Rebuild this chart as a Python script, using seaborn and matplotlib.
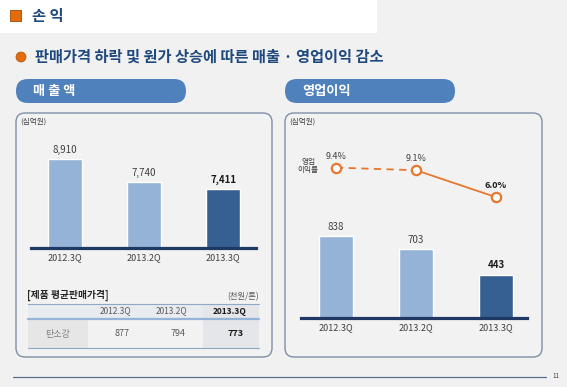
import matplotlib
matplotlib.use('Agg')
import matplotlib.pyplot as plt
import seaborn as sns
from matplotlib.patches import FancyBboxPatch, Rectangle, Circle

# ─── data ──────────────────────────────────────────────────────────────────────
quarters = ['2012.3Q', '2013.2Q', '2013.3Q']
sales = [8910, 7740, 7411]            # 매출액 (십억원)
op_profit = [838, 703, 443]           # 영업이익 (십억원)
op_margin = [9.4, 9.1, 6.0]           # 영업이익률 (%)
price_label = '탄소강'
avg_price = [877, 794, 773]           # 제품 평균판매가격 (천원/톤)

W, H = 567, 387
LIGHT = '#95b3d7'
DARK = '#366092'
NAVY = '#1f3864'
ORANGE = '#e8772e'
TITLE_BLUE = '#1f497d'
PILL = '#4f81bd'
BOX_EDGE = '#7f8fa6'
TXT = '#404040'

sns.set_style('white')
plt.rcParams['font.family'] = ['Noto Sans CJK KR', 'DejaVu Sans']


def px_rect(x0, y0, x1, y1):
    return [x0 / W, 1 - y1 / H, (x1 - x0) / W, (y1 - y0) / H]


fig = plt.figure(figsize=(W / 100, H / 100), dpi=100)
fig.patch.set_facecolor('#f1f1f1')

# background layer in pixel coordinates
bg = fig.add_axes([0, 0, 1, 1])
bg.set_xlim(0, W)
bg.set_ylim(H, 0)
bg.axis('off')

bg.add_patch(Rectangle((0, 0), 377, 33, color='white', lw=0))
bg.add_patch(Rectangle((10, 10), 11, 11, facecolor='#e46c0a', edgecolor='#a04a05', lw=0.6))
bg.text(32, 16, '손 익', fontsize=11, fontweight='bold', color=TITLE_BLUE, va='center')

bg.add_patch(Circle((21, 57), 5, facecolor='#e46c0a', edgecolor='#b35408', lw=0.5))
bg.text(35, 57, '판매가격 하락 및 원가 상승에 따른 매출 · 영업이익 감소',
        fontsize=11, fontweight='bold', color=TITLE_BLUE, va='center')

# pills and boxes
for x0, x1, label in [(16, 186, '매 출 액'), (285, 455, '영업이익')]:
    bg.add_patch(FancyBboxPatch((x0, 79), x1 - x0, 24,
                                boxstyle='round,pad=0,rounding_size=12',
                                facecolor=PILL, edgecolor='none'))
    bg.text(x0 + 17, 91, label, fontsize=9.5, fontweight='bold', color='white', va='center')

for x0, x1 in [(16, 272), (285, 542)]:
    bg.add_patch(FancyBboxPatch((x0, 113), x1 - x0, 244,
                                boxstyle='round,pad=0,rounding_size=9',
                                facecolor='#f2f2f2', edgecolor=BOX_EDGE, lw=1))
    bg.text(x0 + 4, 122, '(십억원)', fontsize=5.5, color=TXT, va='center')

bg.text(308, 166, '영업\n이익률', fontsize=5.5, color=TXT, ha='center', va='center',
        linespacing=1.1)

# price table
bg.text(27, 295, '[제품 평균판매가격]', fontsize=7, fontweight='bold', color='#262626', va='center')
bg.text(259, 297, '(천원/톤)', fontsize=6, color='#595959', ha='right', va='center')
bg.add_patch(Rectangle((28, 304), 231, 14, color='#e8ebf0', lw=0))
bg.add_patch(Rectangle((28, 318), 60, 30, color='#e6e6e6', lw=0))
bg.add_patch(Rectangle((203, 304), 56, 44, color='#e4e6ea', lw=0))
bg.plot([28, 259], [304, 304], color='#8ea9c1', lw=0.8)
bg.plot([28, 259], [318.5, 318.5], color=LIGHT, lw=1.6)
bg.plot([28, 259], [348, 348], color='#8ea9c1', lw=0.8)
col_x = [116, 172, 230]
for i, (q, v) in enumerate(zip(quarters, avg_price)):
    last = i == len(quarters) - 1
    bg.text(col_x[i], 311, q, fontsize=6, ha='center', va='center',
            color='#1a1a1a' if last else '#595959', fontweight='bold' if last else 'normal')
    bg.text(col_x[i] + 6, 334, f'{v:,}', fontsize=6.5, ha='center', va='center',
            color='#1a1a1a' if last else '#595959', fontweight='bold' if last else 'normal')
bg.text(58, 334, price_label, fontsize=6.5, ha='center', va='center', color='#7f7f7f')

# footer
bg.plot([13, 546], [377, 377], color='#596f8f', lw=0.9)
bg.text(556, 376, '11', fontsize=4.5, color=TXT, ha='center', va='center')

bar_colors = [LIGHT, LIGHT, DARK]


def style_bar_axes(ax):
    ax.set_facecolor('none')
    for s in ['top', 'left', 'right']:
        ax.spines[s].set_visible(False)
    ax.spines['bottom'].set_color(NAVY)
    ax.spines['bottom'].set_linewidth(2.3)
    ax.set_yticks([])
    ax.set_xlabel('')
    ax.set_ylabel('')
    ax.tick_params(axis='x', length=0, pad=4, labelsize=6.5, labelcolor=TXT)


def label_bars(ax, values):
    for i, v in enumerate(values):
        last = i == len(values) - 1
        ax.annotate(f'{v:,}', (i, v), xytext=(0, 3), textcoords='offset points',
                    ha='center', va='bottom', fontsize=7,
                    color='#1a1a1a' if last else TXT,
                    fontweight='bold' if last else 'normal')


# ─── 매출액 ────────────────────────────────────────────────────────────────────
ax1 = fig.add_axes(px_rect(31, 130, 256, 248))
sns.barplot(x=quarters, y=sales, hue=quarters, palette=bar_colors, legend=False,
            width=0.43, saturation=1, ax=ax1)
ax1.set_xlim(-0.426, 2.413)
ax1.set_ylim(4411, 10380)
style_bar_axes(ax1)
label_bars(ax1, sales)

# ─── 영업이익 ──────────────────────────────────────────────────────────────────
ax2 = fig.add_axes(px_rect(301, 130, 527, 318))
sns.barplot(x=quarters, y=op_profit, hue=quarters, palette=bar_colors, legend=False,
            width=0.43, saturation=1, ax=ax2)
ax2.set_xlim(-0.4375, 2.3875)
ax2.set_ylim(0, 1918)
style_bar_axes(ax2)
label_bars(ax2, op_profit)

ax3 = ax2.twinx()
ax3.set_ylim(-7.91, 13.73)
ax3.axis('off')
xs = list(range(len(op_margin)))
sns.lineplot(x=xs[:2], y=op_margin[:2], color=ORANGE, lw=1.3, linestyle=(0, (4, 3)), ax=ax3)
sns.lineplot(x=xs[1:], y=op_margin[1:], color=ORANGE, lw=1.3, ax=ax3)
sns.scatterplot(x=xs, y=op_margin, s=45, facecolor='white', edgecolor=ORANGE,
                linewidth=1.6, zorder=5, ax=ax3)
for i, v in enumerate(op_margin):
    last = i == len(op_margin) - 1
    ax3.annotate(f'{v:.1f}%', (i, v), xytext=(0, 5), textcoords='offset points',
                 ha='center', va='bottom', fontsize=6.5,
                 color='#1a1a1a' if last else TXT,
                 fontweight='bold' if last else 'normal')

fig.savefig('out.png', dpi=100)
